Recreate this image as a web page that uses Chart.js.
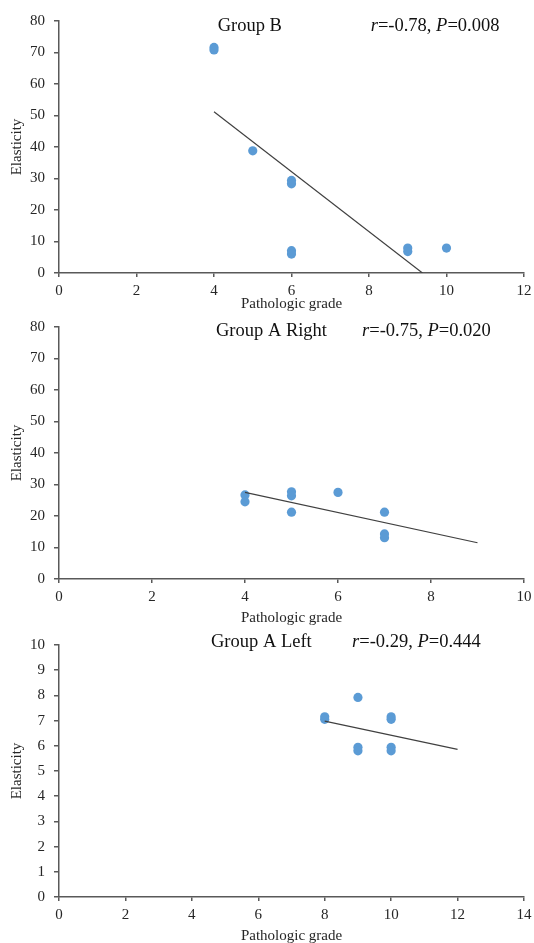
<!DOCTYPE html>
<html>
<head>
<meta charset="utf-8">
<script src="https://cdn.jsdelivr.net/npm/chart.js@4.4.1/dist/chart.umd.min.js"></script>
<style>
    html, body { margin: 0; padding: 0; background: #fff; overflow: hidden; }
    canvas { position: absolute; left: 0; }
</style>
</head>
<body>
<canvas id="chartB" width="534" height="313" style="top:0"></canvas>
<canvas id="chartAR" width="534" height="314" style="top:313px"></canvas>
<canvas id="chartAL" width="534" height="318" style="top:627px"></canvas>
<script>
// ===== Group B =====
const gradeB = [4, 4, 5, 6, 6, 6, 6, 9, 9, 10];
const elastB = [71.6, 70.8, 38.8, 29.4, 28.3, 7.1, 6.0, 7.9, 6.8, 7.9];
const trendGradeB = [4, 9.38];
const trendElastB = [51.2, 0];
const xTicksB = [0, 2, 4, 6, 8, 10, 12];
const yTicksB = [0, 10, 20, 30, 40, 50, 60, 70, 80];

// ===== Group A Right =====
const gradeAR = [4, 4, 5, 5, 5, 6, 7, 7, 7];
const elastAR = [26.7, 24.5, 27.7, 26.4, 21.2, 27.5, 21.2, 14.3, 13.1];
const trendGradeAR = [4, 9];
const trendElastAR = [27.5, 11.5];
const xTicksAR = [0, 2, 4, 6, 8, 10];
const yTicksAR = [0, 10, 20, 30, 40, 50, 60, 70, 80];

// ===== Group A Left =====
const gradeAL = [8, 8, 9, 9, 9, 10, 10, 10, 10];
const elastAL = [7.15, 7.05, 7.92, 5.94, 5.80, 7.15, 7.05, 5.94, 5.80];
const trendGradeAL = [8, 12];
const trendElastAL = [6.98, 5.86];
const xTicksAL = [0, 2, 4, 6, 8, 10, 12, 14];
const yTicksAL = [0, 1, 2, 3, 4, 5, 6, 7, 8, 9, 10];

// ===== Header text =====
const groupNames = ['Group B', 'Group A Right', 'Group A Left'];
const rValues = ['-0.78', '-0.75', '-0.29'];
const pValues = ['0.008', '0.020', '0.444'];

const FONT = '"Liberation Serif", "Times New Roman", serif';
const INK = '#262626';
const AXIS = '#595959';

// draws "Group X    r=..., P=..." above the plot
const headerPlugin = {
    id: 'header',
    afterDraw(chart, args, o) {
        const ctx = chart.ctx;
        ctx.save();
        ctx.fillStyle = '#111';
        ctx.textBaseline = 'alphabetic';
        ctx.textAlign = 'left';
        ctx.font = '18.5px ' + FONT;
        ctx.fillText(o.group, o.groupX, o.baseY);
        const parts = [
            { t: 'r', it: true }, { t: '=' + o.r + ', ', it: false },
            { t: 'P', it: true }, { t: '=' + o.p, it: false }
        ];
        let x = o.statX;
        parts.forEach(p => {
            ctx.font = (p.it ? 'italic ' : '') + '18.5px ' + FONT;
            ctx.fillText(p.t, x, o.baseY);
            x += ctx.measureText(p.t).width;
        });
        ctx.restore();
    }
};

function toPoints(xs, ys) {
    return xs.map((x, i) => ({ x: x, y: ys[i] }));
}

function makeChart(id, d) {
    const tickFont = { family: FONT, size: 15 };
    new Chart(document.getElementById(id), {
        type: 'scatter',
        data: {
            datasets: [
                {
                    data: toPoints(d.trendX, d.trendY),
                    showLine: true,
                    borderColor: '#404040',
                    borderWidth: 1.2,
                    pointRadius: 0,
                    fill: false
                },
                {
                    data: toPoints(d.x, d.y),
                    backgroundColor: '#5B9BD5',
                    borderWidth: 0,
                    pointRadius: 4.6,
                    pointHoverRadius: 4.6
                }
            ]
        },
        options: {
            responsive: false,
            animation: false,
            events: [],
            layout: { padding: { top: d.top, right: 10, bottom: 0, left: 0 } },
            plugins: {
                legend: { display: false },
                tooltip: { enabled: false },
                header: { group: d.group, r: d.r, p: d.p, groupX: d.groupX, statX: d.statX, baseY: d.baseY }
            },
            scales: {
                x: {
                    type: 'linear',
                    min: d.xTicks[0],
                    max: d.xTicks[d.xTicks.length - 1],
                    ticks: { stepSize: d.xTicks[1] - d.xTicks[0], padding: 5, color: INK, font: tickFont, maxRotation: 0 },
                    grid: { drawOnChartArea: false, drawTicks: true, tickLength: 4, color: AXIS, lineWidth: 1.5 },
                    border: { color: AXIS, width: 1.5 },
                    title: { display: true, text: 'Pathologic grade', color: INK, font: tickFont, padding: 0 },
                    afterFit(s) {
                        s.height = d.xHeight;
                        s.paddingLeft = 0; s.paddingRight = 0;
                    }
                },
                y: {
                    type: 'linear',
                    min: d.yTicks[0],
                    max: d.yTicks[d.yTicks.length - 1],
                    ticks: { stepSize: d.yTicks[1] - d.yTicks[0], padding: 9, color: INK, font: tickFont },
                    grid: { drawOnChartArea: false, drawTicks: true, tickLength: 5, color: AXIS, lineWidth: 1.5 },
                    border: { color: AXIS, width: 1.5 },
                    title: { display: true, text: 'Elasticity', color: INK, font: tickFont, padding: { top: 8, bottom: 0 } },
                    afterFit(s) {
                        s.width = 59;
                        s.paddingTop = 0; s.paddingBottom = 0;
                    }
                }
            }
        },
        plugins: [headerPlugin]
    });
}

makeChart('chartB', {
    x: gradeB, y: elastB, trendX: trendGradeB, trendY: trendElastB,
    xTicks: xTicksB, yTicks: yTicksB,
    group: groupNames[0], r: rValues[0], p: pValues[0],
    top: 21, xHeight: 40, groupX: 217.7, statX: 370.7, baseY: 30.7
});

makeChart('chartAR', {
    x: gradeAR, y: elastAR, trendX: trendGradeAR, trendY: trendElastAR,
    xTicks: xTicksAR, yTicks: yTicksAR,
    group: groupNames[1], r: rValues[1], p: pValues[1],
    top: 14, xHeight: 48, groupX: 216, statX: 362, baseY: 22.7
});

makeChart('chartAL', {
    x: gradeAL, y: elastAL, trendX: trendGradeAL, trendY: trendElastAL,
    xTicks: xTicksAL, yTicks: yTicksAL,
    group: groupNames[2], r: rValues[2], p: pValues[2],
    top: 18, xHeight: 48, groupX: 211, statX: 352, baseY: 19.7
});
</script>
</body>
</html>
